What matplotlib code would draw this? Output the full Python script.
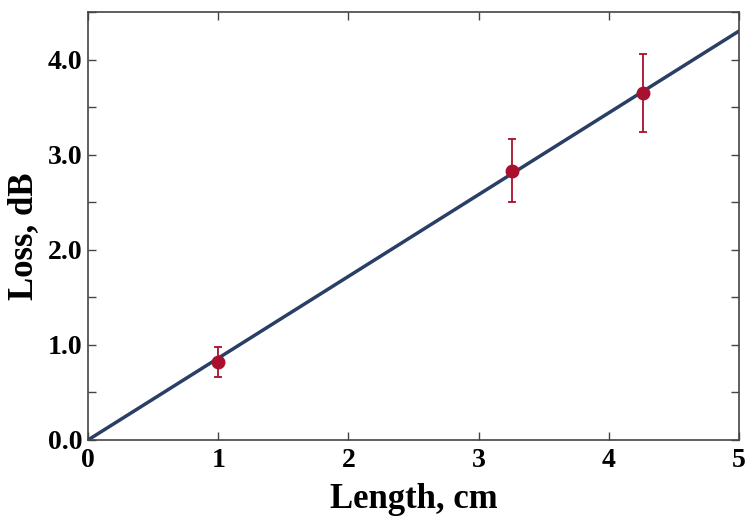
import matplotlib.pyplot as plt
from matplotlib.ticker import MultipleLocator

# measured points
length = [1.0, 3.26, 4.26]
loss = [0.82, 2.83, 3.65]
loss_err = [0.16, 0.33, 0.41]

# linear fit
fit_x = [0, 5]
fit_y = [0, 4.3]

plt.rcParams['font.family'] = ['Liberation Serif', 'DejaVu Serif']
plt.rcParams['font.weight'] = 'bold'

fig = plt.figure(figsize=(7.47, 5.18), dpi=100)
ax = fig.add_axes([0.1178, 0.1506, 0.8715, 0.8262])

ax.plot(fit_x, fit_y, color='#2a3f66', lw=2.5, zorder=2)
ax.errorbar(length, loss, yerr=loss_err, fmt='o', color='#a8102e', ms=9,
            elinewidth=1.3, capsize=3, capthick=1.3, zorder=3)

ax.set_xlim(0, 5)
ax.set_ylim(0, 4.5)
ax.xaxis.set_major_locator(MultipleLocator(1))
ax.yaxis.set_major_locator(MultipleLocator(1))
ax.yaxis.set_minor_locator(MultipleLocator(0.5))
ax.yaxis.set_major_formatter('{x:.1f}')

ax.tick_params(which='both', direction='in', top=True, right=True, length=6,
               width=1, color='#444444', labelsize=20)
ax.tick_params(axis='x', pad=6)
ax.tick_params(axis='y', pad=4)
for s in ax.spines.values():
    s.set_color('#444444')
    s.set_linewidth(1.2)

ax.set_xlabel('Length, cm', fontsize=25, fontweight='bold', labelpad=7)
ax.set_ylabel('Loss, dB', fontsize=25, fontweight='bold')
ax.yaxis.set_label_coords(-0.073, 0.475)

fig.savefig('out.png', dpi=100)
